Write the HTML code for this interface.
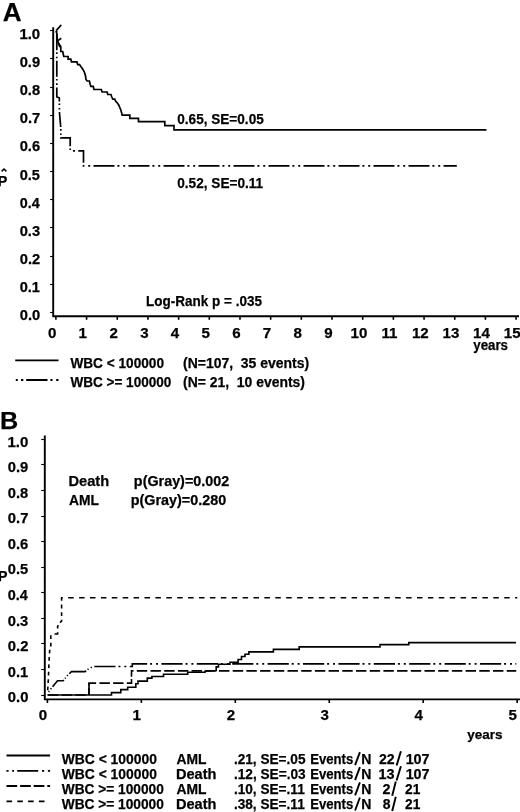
<!DOCTYPE html>
<html><head><meta charset="utf-8"><style>
html,body{margin:0;padding:0;background:#fff;width:520px;height:812px;overflow:hidden}
svg{display:block;filter:grayscale(1)}
text{font-family:"Liberation Sans", sans-serif;font-weight:bold;fill:#000;stroke:#000;stroke-width:0.25px}
</style></head><body>
<svg width="520" height="812" viewBox="0 0 520 812" stroke="#000" stroke-linecap="butt">
<text x="2.75" y="21.00" font-size="26.2" textLength="18.86" lengthAdjust="spacingAndGlyphs">A</text>
<path d="M53.2 27.2 V316.3 H519" stroke-width="1.9" fill="none"/>
<line x1="50.10" y1="312.50" x2="53.20" y2="312.50" stroke-width="1.1"/>
<text x="19.71" y="320.30" font-size="15" textLength="20.48" lengthAdjust="spacingAndGlyphs">0.0</text>
<line x1="50.10" y1="284.50" x2="53.20" y2="284.50" stroke-width="1.1"/>
<text x="19.72" y="292.15" font-size="15" textLength="20.25" lengthAdjust="spacingAndGlyphs">0.1</text>
<line x1="50.10" y1="256.50" x2="53.20" y2="256.50" stroke-width="1.1"/>
<text x="19.71" y="264.00" font-size="15" textLength="20.48" lengthAdjust="spacingAndGlyphs">0.2</text>
<line x1="50.10" y1="227.50" x2="53.20" y2="227.50" stroke-width="1.1"/>
<text x="19.71" y="235.85" font-size="15" textLength="20.40" lengthAdjust="spacingAndGlyphs">0.3</text>
<line x1="50.10" y1="199.50" x2="53.20" y2="199.50" stroke-width="1.1"/>
<text x="19.73" y="207.70" font-size="15" textLength="19.95" lengthAdjust="spacingAndGlyphs">0.4</text>
<line x1="50.10" y1="171.50" x2="53.20" y2="171.50" stroke-width="1.1"/>
<text x="19.72" y="179.55" font-size="15" textLength="20.25" lengthAdjust="spacingAndGlyphs">0.5</text>
<line x1="50.10" y1="143.50" x2="53.20" y2="143.50" stroke-width="1.1"/>
<text x="19.71" y="151.40" font-size="15" textLength="20.40" lengthAdjust="spacingAndGlyphs">0.6</text>
<line x1="50.10" y1="115.50" x2="53.20" y2="115.50" stroke-width="1.1"/>
<text x="19.71" y="123.25" font-size="15" textLength="20.48" lengthAdjust="spacingAndGlyphs">0.7</text>
<line x1="50.10" y1="87.50" x2="53.20" y2="87.50" stroke-width="1.1"/>
<text x="19.72" y="95.10" font-size="15" textLength="20.33" lengthAdjust="spacingAndGlyphs">0.8</text>
<line x1="50.10" y1="58.50" x2="53.20" y2="58.50" stroke-width="1.1"/>
<text x="19.71" y="66.95" font-size="15" textLength="20.40" lengthAdjust="spacingAndGlyphs">0.9</text>
<line x1="50.10" y1="30.50" x2="53.20" y2="30.50" stroke-width="1.1"/>
<text x="19.40" y="38.80" font-size="15" textLength="20.80" lengthAdjust="spacingAndGlyphs">1.0</text>
<line x1="55.90" y1="316.30" x2="55.90" y2="319.80" stroke-width="1.6"/>
<text x="48.11" y="337.70" font-size="14.8" textLength="8.40" lengthAdjust="spacingAndGlyphs">0</text>
<line x1="86.58" y1="316.30" x2="86.58" y2="319.80" stroke-width="1.6"/>
<text x="78.53" y="337.70" font-size="14.8" textLength="8.40" lengthAdjust="spacingAndGlyphs">1</text>
<line x1="117.26" y1="316.30" x2="117.26" y2="319.80" stroke-width="1.6"/>
<text x="109.51" y="337.70" font-size="14.8" textLength="8.40" lengthAdjust="spacingAndGlyphs">2</text>
<line x1="147.94" y1="316.30" x2="147.94" y2="319.80" stroke-width="1.6"/>
<text x="140.23" y="337.70" font-size="14.8" textLength="8.40" lengthAdjust="spacingAndGlyphs">3</text>
<line x1="178.62" y1="316.30" x2="178.62" y2="319.80" stroke-width="1.6"/>
<text x="170.76" y="337.70" font-size="14.8" textLength="8.40" lengthAdjust="spacingAndGlyphs">4</text>
<line x1="209.30" y1="316.30" x2="209.30" y2="319.80" stroke-width="1.6"/>
<text x="201.47" y="337.70" font-size="14.8" textLength="8.40" lengthAdjust="spacingAndGlyphs">5</text>
<line x1="239.98" y1="316.30" x2="239.98" y2="319.80" stroke-width="1.6"/>
<text x="232.19" y="337.70" font-size="14.8" textLength="8.40" lengthAdjust="spacingAndGlyphs">6</text>
<line x1="270.66" y1="316.30" x2="270.66" y2="319.80" stroke-width="1.6"/>
<text x="262.87" y="337.70" font-size="14.8" textLength="8.40" lengthAdjust="spacingAndGlyphs">7</text>
<line x1="301.34" y1="316.30" x2="301.34" y2="319.80" stroke-width="1.6"/>
<text x="293.55" y="337.70" font-size="14.8" textLength="8.40" lengthAdjust="spacingAndGlyphs">8</text>
<line x1="332.02" y1="316.30" x2="332.02" y2="319.80" stroke-width="1.6"/>
<text x="324.23" y="337.70" font-size="14.8" textLength="8.40" lengthAdjust="spacingAndGlyphs">9</text>
<line x1="362.70" y1="316.30" x2="362.70" y2="319.80" stroke-width="1.6"/>
<text x="350.57" y="337.70" font-size="14.8" textLength="16.79" lengthAdjust="spacingAndGlyphs">10</text>
<line x1="393.38" y1="316.30" x2="393.38" y2="319.80" stroke-width="1.6"/>
<text x="381.55" y="337.70" font-size="14.8" textLength="15.96" lengthAdjust="spacingAndGlyphs">11</text>
<line x1="424.06" y1="316.30" x2="424.06" y2="319.80" stroke-width="1.6"/>
<text x="411.93" y="337.70" font-size="14.8" textLength="16.79" lengthAdjust="spacingAndGlyphs">12</text>
<line x1="454.74" y1="316.30" x2="454.74" y2="319.80" stroke-width="1.6"/>
<text x="442.57" y="337.70" font-size="14.8" textLength="16.79" lengthAdjust="spacingAndGlyphs">13</text>
<line x1="485.42" y1="316.30" x2="485.42" y2="319.80" stroke-width="1.6"/>
<text x="473.03" y="337.70" font-size="14.8" textLength="16.79" lengthAdjust="spacingAndGlyphs">14</text>
<line x1="516.10" y1="316.30" x2="516.10" y2="319.80" stroke-width="1.6"/>
<text x="503.86" y="337.70" font-size="14.8" textLength="16.79" lengthAdjust="spacingAndGlyphs">15</text>
<text x="473.27" y="349.80" font-size="14" textLength="34.65" lengthAdjust="spacingAndGlyphs">years</text>
<text x="-2.14" y="185.60" font-size="14.5" textLength="9.60" lengthAdjust="spacingAndGlyphs">P</text>
<path d="M1.6 171.4 L4.0 169.0 L6.4 171.4" stroke-width="1.5" fill="none"/>
<path d="M56.2 30.6 L56.3 32 L56.9 33.3 L57 35.5 L57.2 39 L57.6 41.5 L59.6 46.2 L60.8 47.3 L60.8 51.5 L62.7 51.5 L63.8 56.5 L68.1 56.5 L68.1 59.2 L70.8 59.2 L71.5 61.9 L76.9 61.9 L77.7 64.6 L79.6 64.6 L80.8 66.5 L82.3 68.5 L83.5 70.4 L84.6 72.7 L85.5 76 L86 79.5 L87.1 81 L89.4 81 L90.2 84.5 L90.9 86.4 L93.2 86.4 L94 89.5 L101.3 89.5 L102.1 92 L107.1 92 L107.8 94.5 L110.9 94.5 L111.7 96.8 L112.8 99.1 L114.8 99.1 L115.5 101 L116.3 101.8 L117.5 103.3 L118.6 104.8 L119.8 107.5 L120.9 110.2 L121.8 113.5 L122.2 115.2 L129.8 115.2 L129.8 118.4 L138.5 118.4 L138.5 121.7 L164.8 121.7 L164.8 125.7 L174 125.7 L174 129.8 L486.5 129.8" stroke-width="1.7" fill="none"/>
<path d="M56.2 30.6 L61.3 24.9" stroke-width="1.6" fill="none"/>
<path d="M56.7 41.2 L61.3 38.3" stroke-width="1.6" fill="none"/>
<path d="M57.5 41.2 L60 45.1 L61.3 46.6" stroke-width="1.4" fill="none"/>
<path d="M56.80 31.00 L56.80 31.68 M56.80 34.19 L56.80 50.15 M56.80 52.36 L56.80 53.88 M56.80 56.76 L56.80 58.28 M56.80 60.79 L56.80 76.75 M56.80 78.96 L56.80 80.48 M56.80 83.36 L56.80 84.88 M56.80 87.39 L56.80 97.00 L59.30 97.80 L59.35 101.42 M59.38 103.60 L59.40 105.10 M59.43 107.96 L59.45 109.47 M59.49 111.95 L59.50 113.00 L60.71 126.98 M60.80 129.12 L60.80 130.64 M60.80 133.52 L60.80 135.04 M60.80 137.55 L60.80 137.80 L70.20 137.80 L70.20 146.37 M70.20 148.57 L70.20 150.09 M72.94 150.90 L74.94 150.90 M78.24 150.90 L83.50 150.90 L83.50 162.86 M83.50 165.06 L83.50 165.90 L84.40 165.90 M88.20 165.90 L90.20 165.90 M93.50 165.90 L114.50 165.90 M117.40 165.90 L119.40 165.90 M123.20 165.90 L125.20 165.90 M128.50 165.90 L149.50 165.90 M152.40 165.90 L154.40 165.90 M158.20 165.90 L160.20 165.90 M163.50 165.90 L184.50 165.90 M187.40 165.90 L189.40 165.90 M193.20 165.90 L195.20 165.90 M198.50 165.90 L219.50 165.90 M222.40 165.90 L224.40 165.90 M228.20 165.90 L230.20 165.90 M233.50 165.90 L254.50 165.90 M257.40 165.90 L259.40 165.90 M263.20 165.90 L265.20 165.90 M268.50 165.90 L289.50 165.90 M292.40 165.90 L294.40 165.90 M298.20 165.90 L300.20 165.90 M303.50 165.90 L324.50 165.90 M327.40 165.90 L329.40 165.90 M333.20 165.90 L335.20 165.90 M338.50 165.90 L359.50 165.90 M362.40 165.90 L364.40 165.90 M368.20 165.90 L370.20 165.90 M373.50 165.90 L394.50 165.90 M397.40 165.90 L399.40 165.90 M403.20 165.90 L405.20 165.90 M408.50 165.90 L429.50 165.90 M432.40 165.90 L434.40 165.90 M438.20 165.90 L440.20 165.90 M443.50 165.90 L456.80 165.90" stroke-width="1.7" fill="none"/>
<text x="177.26" y="124.40" font-size="15" textLength="86.50" lengthAdjust="spacingAndGlyphs">0.65, SE=0.05</text>
<text x="177.26" y="188.00" font-size="15" textLength="85.90" lengthAdjust="spacingAndGlyphs">0.52, SE=0.11</text>
<text x="146.12" y="306.00" font-size="15" textLength="115.82" lengthAdjust="spacingAndGlyphs">Log-Rank p = .035</text>
<line x1="15.20" y1="360.40" x2="58.50" y2="360.40" stroke-width="1.8"/>
<path d="M15.8 380 H58.5" stroke-width="1.8" fill="none" stroke-dasharray="2 3.2 2.3 2.9 21.3 2.9 2.1 3.7 2.3 10"/>
<text x="70.40" y="367.50" font-size="14.5" textLength="93.64" lengthAdjust="spacingAndGlyphs">WBC &lt; 100000</text>
<text x="183.00" y="367.50" font-size="14.5" textLength="126.07" lengthAdjust="spacingAndGlyphs" xml:space="preserve">(N=107,  35 events)</text>
<text x="70.40" y="386.50" font-size="14.5" textLength="100.93" lengthAdjust="spacingAndGlyphs">WBC &gt;= 100000</text>
<text x="183.00" y="386.50" font-size="14.5" textLength="121.99" lengthAdjust="spacingAndGlyphs" xml:space="preserve">(N= 21,  10 events)</text>
<text x="0.06" y="429.40" font-size="24.8" textLength="18.23" lengthAdjust="spacingAndGlyphs">B</text>
<path d="M44.8 435.4 V699.4 H520" stroke-width="1.9" fill="none"/>
<line x1="41.20" y1="695.50" x2="44.80" y2="695.50" stroke-width="1.1"/>
<text x="7.81" y="702.30" font-size="15.2" textLength="20.59" lengthAdjust="spacingAndGlyphs">0.0</text>
<line x1="41.20" y1="669.50" x2="44.80" y2="669.50" stroke-width="1.1"/>
<text x="7.81" y="676.72" font-size="15.2" textLength="20.35" lengthAdjust="spacingAndGlyphs">0.1</text>
<line x1="41.20" y1="643.50" x2="44.80" y2="643.50" stroke-width="1.1"/>
<text x="7.81" y="651.14" font-size="15.2" textLength="20.59" lengthAdjust="spacingAndGlyphs">0.2</text>
<line x1="41.20" y1="618.50" x2="44.80" y2="618.50" stroke-width="1.1"/>
<text x="7.81" y="625.56" font-size="15.2" textLength="20.51" lengthAdjust="spacingAndGlyphs">0.3</text>
<line x1="41.20" y1="592.50" x2="44.80" y2="592.50" stroke-width="1.1"/>
<text x="7.82" y="599.98" font-size="15.2" textLength="20.05" lengthAdjust="spacingAndGlyphs">0.4</text>
<line x1="41.20" y1="567.50" x2="44.80" y2="567.50" stroke-width="1.1"/>
<text x="7.81" y="574.40" font-size="15.2" textLength="20.35" lengthAdjust="spacingAndGlyphs">0.5</text>
<line x1="41.20" y1="541.50" x2="44.80" y2="541.50" stroke-width="1.1"/>
<text x="7.81" y="548.82" font-size="15.2" textLength="20.51" lengthAdjust="spacingAndGlyphs">0.6</text>
<line x1="41.20" y1="516.50" x2="44.80" y2="516.50" stroke-width="1.1"/>
<text x="7.81" y="523.24" font-size="15.2" textLength="20.59" lengthAdjust="spacingAndGlyphs">0.7</text>
<line x1="41.20" y1="490.50" x2="44.80" y2="490.50" stroke-width="1.1"/>
<text x="7.81" y="497.66" font-size="15.2" textLength="20.43" lengthAdjust="spacingAndGlyphs">0.8</text>
<line x1="41.20" y1="464.50" x2="44.80" y2="464.50" stroke-width="1.1"/>
<text x="7.81" y="472.08" font-size="15.2" textLength="20.51" lengthAdjust="spacingAndGlyphs">0.9</text>
<line x1="41.20" y1="439.50" x2="44.80" y2="439.50" stroke-width="1.1"/>
<text x="7.50" y="446.50" font-size="15.2" textLength="20.91" lengthAdjust="spacingAndGlyphs">1.0</text>
<line x1="47.40" y1="699.40" x2="47.40" y2="703.00" stroke-width="1.6"/>
<text x="38.71" y="720.20" font-size="14.8" textLength="8.40" lengthAdjust="spacingAndGlyphs">0</text>
<line x1="141.35" y1="699.40" x2="141.35" y2="703.00" stroke-width="1.6"/>
<text x="132.40" y="720.20" font-size="14.8" textLength="8.40" lengthAdjust="spacingAndGlyphs">1</text>
<line x1="235.30" y1="699.40" x2="235.30" y2="703.00" stroke-width="1.6"/>
<text x="226.65" y="720.20" font-size="14.8" textLength="8.40" lengthAdjust="spacingAndGlyphs">2</text>
<line x1="329.25" y1="699.40" x2="329.25" y2="703.00" stroke-width="1.6"/>
<text x="320.64" y="720.20" font-size="14.8" textLength="8.40" lengthAdjust="spacingAndGlyphs">3</text>
<line x1="423.20" y1="699.40" x2="423.20" y2="703.00" stroke-width="1.6"/>
<text x="414.44" y="720.20" font-size="14.8" textLength="8.40" lengthAdjust="spacingAndGlyphs">4</text>
<line x1="517.15" y1="699.40" x2="517.15" y2="703.00" stroke-width="1.6"/>
<text x="508.42" y="720.20" font-size="14.8" textLength="8.40" lengthAdjust="spacingAndGlyphs">5</text>
<text x="467.37" y="738.80" font-size="13" textLength="35.16" lengthAdjust="spacingAndGlyphs">years</text>
<text x="-2.12" y="580.80" font-size="14" textLength="9.48" lengthAdjust="spacingAndGlyphs">P</text>
<text x="68.45" y="486.20" font-size="14.5" textLength="40.71" lengthAdjust="spacingAndGlyphs">Death</text>
<text x="133.87" y="486.20" font-size="14.5" textLength="95.35" lengthAdjust="spacingAndGlyphs">p(Gray)=0.002</text>
<text x="69.05" y="505.40" font-size="14.5" textLength="29.98" lengthAdjust="spacingAndGlyphs">AML</text>
<text x="130.77" y="505.40" font-size="14.5" textLength="95.45" lengthAdjust="spacingAndGlyphs">p(Gray)=0.280</text>
<path d="M47.50 694.30 L47.52 693.92 M47.72 690.29 L47.93 686.58 M48.13 682.94 L48.33 679.23 M48.50 675.57 L48.64 671.82 M48.79 668.14 L48.94 664.40 M49.08 660.72 L49.20 657.70 L49.25 656.98 M49.48 653.36 L49.71 649.68 M50.49 646.44 L50.80 645.60 L50.80 642.81 M50.80 639.03 L50.80 635.18 M54.51 634.00 L57.60 634.00 L57.60 632.31 M57.60 628.53 L57.60 626.60 L58.47 625.29 M60.17 622.70 L60.30 622.50 L61.60 621.00 L61.60 619.85 M61.60 616.07 L61.60 612.22 M61.60 608.44 L61.60 604.59 M61.60 600.81 L61.60 597.80 L62.80 597.80 M68.20 597.80 L73.70 597.80 M79.10 597.80 L84.60 597.80 M90.00 597.80 L95.50 597.80 M100.90 597.80 L106.40 597.80 M111.80 597.80 L117.30 597.80 M122.70 597.80 L128.20 597.80 M133.60 597.80 L139.10 597.80 M144.50 597.80 L150.00 597.80 M155.40 597.80 L160.90 597.80 M166.30 597.80 L171.80 597.80 M177.20 597.80 L182.70 597.80 M188.10 597.80 L193.60 597.80 M199.00 597.80 L204.50 597.80 M209.90 597.80 L215.40 597.80 M220.80 597.80 L226.30 597.80 M231.70 597.80 L237.20 597.80 M242.60 597.80 L248.10 597.80 M253.50 597.80 L259.00 597.80 M264.40 597.80 L269.90 597.80 M275.30 597.80 L280.80 597.80 M286.20 597.80 L291.70 597.80 M297.10 597.80 L302.60 597.80 M308.00 597.80 L313.50 597.80 M318.90 597.80 L324.40 597.80 M329.80 597.80 L335.30 597.80 M340.70 597.80 L346.20 597.80 M351.60 597.80 L357.10 597.80 M362.50 597.80 L368.00 597.80 M373.40 597.80 L378.90 597.80 M384.30 597.80 L389.80 597.80 M395.20 597.80 L400.70 597.80 M406.10 597.80 L411.60 597.80 M417.00 597.80 L422.50 597.80 M427.90 597.80 L433.40 597.80 M438.80 597.80 L444.30 597.80 M449.70 597.80 L455.20 597.80 M460.60 597.80 L466.10 597.80 M471.50 597.80 L477.00 597.80 M482.40 597.80 L487.90 597.80 M493.30 597.80 L498.80 597.80 M504.20 597.80 L509.70 597.80 M515.10 597.80 L517.30 597.80" stroke-width="1.6" fill="none"/>
<path d="M48.60 691.97 L49.29 691.05 M50.64 689.27 L51.33 688.35 M52.50 686.79 L52.80 686.40 L57.50 680.70 L63.20 680.70 L63.86 679.90 M64.92 678.61 L65.65 677.73 M67.08 676.00 L67.81 675.11 M69.24 673.73 L71.50 671.60 L85.00 671.60 L86.16 670.74 M87.57 669.69 L88.50 669.00 L88.55 668.97 M90.69 667.75 L91.80 667.12 M94.33 666.51 L94.40 666.50 L115.51 666.50 M118.41 666.50 L120.41 666.50 M124.31 666.50 L126.31 666.50 M129.71 666.50 L132.30 666.50 L132.30 663.90 L147.20 663.90 M150.10 663.90 L152.10 663.90 M156.00 663.90 L158.00 663.90 M161.40 663.90 L182.60 663.90 M185.50 663.90 L187.50 663.90 M191.40 663.90 L193.40 663.90 M196.80 663.90 L218.00 663.90 M220.90 663.90 L222.90 663.90 M226.80 663.90 L228.80 663.90 M232.20 663.90 L253.40 663.90 M256.30 663.90 L258.30 663.90 M262.20 663.90 L264.20 663.90 M267.60 663.90 L288.80 663.90 M291.70 663.90 L293.70 663.90 M297.60 663.90 L299.60 663.90 M303.00 663.90 L324.20 663.90 M327.10 663.90 L329.10 663.90 M333.00 663.90 L335.00 663.90 M338.40 663.90 L359.60 663.90 M362.50 663.90 L364.50 663.90 M368.40 663.90 L370.40 663.90 M373.80 663.90 L395.00 663.90 M397.90 663.90 L399.90 663.90 M403.80 663.90 L405.80 663.90 M409.20 663.90 L430.40 663.90 M433.30 663.90 L435.30 663.90 M439.20 663.90 L441.20 663.90 M444.60 663.90 L465.80 663.90 M468.70 663.90 L470.70 663.90 M474.60 663.90 L476.60 663.90 M480.00 663.90 L501.20 663.90 M504.10 663.90 L506.10 663.90 M510.00 663.90 L512.00 663.90 M515.40 663.90 L516.30 663.90" stroke-width="1.6" fill="none"/>
<path d="M47.93 695.00 L58.33 695.00 M61.63 695.00 L72.03 695.00 M75.33 695.00 L85.73 695.00 M89.00 694.98 L89.00 687.70 M89.00 685.39 L89.00 683.10 L96.13 683.10 M99.43 683.10 L109.83 683.10 M113.13 683.10 L123.53 683.10 M126.83 683.10 L131.50 683.10 L131.50 679.09 M131.50 676.78 L131.50 670.90 L133.50 670.90 M136.80 670.90 L147.20 670.90 M150.50 670.90 L160.90 670.90 M164.20 670.90 L174.60 670.90 M177.90 670.90 L188.30 670.90 M191.60 670.90 L202.00 670.90 M205.30 670.90 L215.70 670.90 M219.00 670.90 L229.40 670.90 M232.70 670.90 L243.10 670.90 M246.40 670.90 L256.80 670.90 M260.10 670.90 L270.50 670.90 M273.80 670.90 L284.20 670.90 M287.50 670.90 L297.90 670.90 M301.20 670.90 L311.60 670.90 M314.90 670.90 L325.30 670.90 M328.60 670.90 L339.00 670.90 M342.30 670.90 L352.70 670.90 M356.00 670.90 L366.40 670.90 M369.70 670.90 L380.10 670.90 M383.40 670.90 L393.80 670.90 M397.10 670.90 L407.50 670.90 M410.80 670.90 L421.20 670.90 M424.50 670.90 L434.90 670.90 M438.20 670.90 L448.60 670.90 M451.90 670.90 L462.30 670.90 M465.60 670.90 L476.00 670.90 M479.30 670.90 L489.70 670.90 M493.00 670.90 L503.40 670.90 M506.70 670.90 L516.20 670.90" stroke-width="1.6" fill="none"/>
<path d="M89 695.0 V683.1" stroke-width="1.6" fill="none"/>
<path d="M47.5 695.0 L111.5 695.0 L111.5 692.6 L120.8 692.6 L120.8 689.6 L127.7 689.6 L127.7 687.3 L135.8 687.3 L135.8 683.8 L138 683.8 L138 681.1 L147.3 681.1 L147.3 678.1 L151.9 678.1 L151.9 676.5 L163.5 676.5 L163.5 674.2 L187.7 674.2 L187.7 672.3 L205 672.3 L205 671.2 L216.2 670.5 L216.2 666.9 L218.5 666.9 L218.5 664.2 L230 664.2 L230 662.3 L238.1 662.3 L238.1 659.5 L241.5 659.5 L241.5 656.5 L245 656.5 L245 654.2 L248.9 654.2 L248.9 651.9 L273.4 651.9 L273.4 649.4 L299.2 649.4 L299.2 646.9 L380 646.9 L380 644.6 L408.8 644.6 L408.8 642.6 L516 642.6" stroke-width="1.6" fill="none"/>
<path d="M6.5 755.5 H50.1" stroke-width="1.8" fill="none"/>
<path d="M6.5 770.9 H50.1" stroke-width="1.8" fill="none" stroke-dasharray="2.1 3.5 1.9 3.2 21 3.8 2.2 3.7 2.2 10"/>
<path d="M6.5 786.0 H50.1" stroke-width="1.8" fill="none" stroke-dasharray="10.7 2.9"/>
<path d="M6.5 801.3 H44.6" stroke-width="1.8" fill="none" stroke-dasharray="5.6 5.2"/>
<text x="61.70" y="763.50" font-size="14.6" textLength="95.15" lengthAdjust="spacingAndGlyphs">WBC &lt; 100000</text>
<text x="176.55" y="763.50" font-size="14.6" textLength="29.98" lengthAdjust="spacingAndGlyphs">AML</text>
<text x="233.91" y="763.50" font-size="14.6" textLength="71.61" lengthAdjust="spacingAndGlyphs">.21, SE=.05</text>
<text x="310.14" y="763.50" font-size="14.6" textLength="43.18" lengthAdjust="spacingAndGlyphs">Events</text>
<path d="M355.1 765.10 L359.9 752.10" stroke-width="1.9" fill="none"/>
<text x="361.29" y="763.50" font-size="14.6" textLength="10.16" lengthAdjust="spacingAndGlyphs">N</text>
<text x="378.91" y="763.50" font-size="14.6" textLength="15.69" lengthAdjust="spacingAndGlyphs">22</text>
<path d="M396.6 765.50 L400.9 751.30" stroke-width="1.9" fill="none"/>
<text x="405.64" y="763.50" font-size="14.6" textLength="23.99" lengthAdjust="spacingAndGlyphs">107</text>
<text x="61.70" y="778.50" font-size="14.6" textLength="95.15" lengthAdjust="spacingAndGlyphs">WBC &lt; 100000</text>
<text x="175.95" y="778.50" font-size="14.6" textLength="40.50" lengthAdjust="spacingAndGlyphs">Death</text>
<text x="233.91" y="778.50" font-size="14.6" textLength="71.75" lengthAdjust="spacingAndGlyphs">.12, SE=.03</text>
<text x="310.14" y="778.50" font-size="14.6" textLength="43.18" lengthAdjust="spacingAndGlyphs">Events</text>
<path d="M355.1 780.10 L359.9 767.10" stroke-width="1.9" fill="none"/>
<text x="361.29" y="778.50" font-size="14.6" textLength="10.16" lengthAdjust="spacingAndGlyphs">N</text>
<text x="378.54" y="778.50" font-size="14.6" textLength="16.00" lengthAdjust="spacingAndGlyphs">13</text>
<path d="M396.6 780.50 L400.9 766.30" stroke-width="1.9" fill="none"/>
<text x="405.64" y="778.50" font-size="14.6" textLength="23.99" lengthAdjust="spacingAndGlyphs">107</text>
<text x="61.70" y="793.70" font-size="14.6" textLength="102.13" lengthAdjust="spacingAndGlyphs">WBC &gt;= 100000</text>
<text x="176.55" y="793.70" font-size="14.6" textLength="29.98" lengthAdjust="spacingAndGlyphs">AML</text>
<text x="233.91" y="793.70" font-size="14.6" textLength="70.81" lengthAdjust="spacingAndGlyphs">.10, SE=.11</text>
<text x="310.14" y="793.70" font-size="14.6" textLength="43.18" lengthAdjust="spacingAndGlyphs">Events</text>
<path d="M355.1 795.30 L359.9 782.30" stroke-width="1.9" fill="none"/>
<text x="361.29" y="793.70" font-size="14.6" textLength="10.16" lengthAdjust="spacingAndGlyphs">N</text>
<text x="382.60" y="793.70" font-size="14.6" textLength="7.99" lengthAdjust="spacingAndGlyphs">2</text>
<path d="M392.2 795.70 L395.8 781.50" stroke-width="1.9" fill="none"/>
<text x="405.02" y="793.70" font-size="14.6" textLength="15.25" lengthAdjust="spacingAndGlyphs">21</text>
<text x="61.70" y="808.90" font-size="14.6" textLength="102.13" lengthAdjust="spacingAndGlyphs">WBC &gt;= 100000</text>
<text x="175.95" y="808.90" font-size="14.6" textLength="40.50" lengthAdjust="spacingAndGlyphs">Death</text>
<text x="233.91" y="808.90" font-size="14.6" textLength="70.81" lengthAdjust="spacingAndGlyphs">.38, SE=.11</text>
<text x="310.14" y="808.90" font-size="14.6" textLength="43.18" lengthAdjust="spacingAndGlyphs">Events</text>
<path d="M355.1 810.50 L359.9 797.50" stroke-width="1.9" fill="none"/>
<text x="361.29" y="808.90" font-size="14.6" textLength="10.16" lengthAdjust="spacingAndGlyphs">N</text>
<text x="382.68" y="808.90" font-size="14.6" textLength="7.75" lengthAdjust="spacingAndGlyphs">8</text>
<path d="M392.2 810.90 L395.8 796.70" stroke-width="1.9" fill="none"/>
<text x="405.02" y="808.90" font-size="14.6" textLength="15.25" lengthAdjust="spacingAndGlyphs">21</text>
</svg>
</body></html>
